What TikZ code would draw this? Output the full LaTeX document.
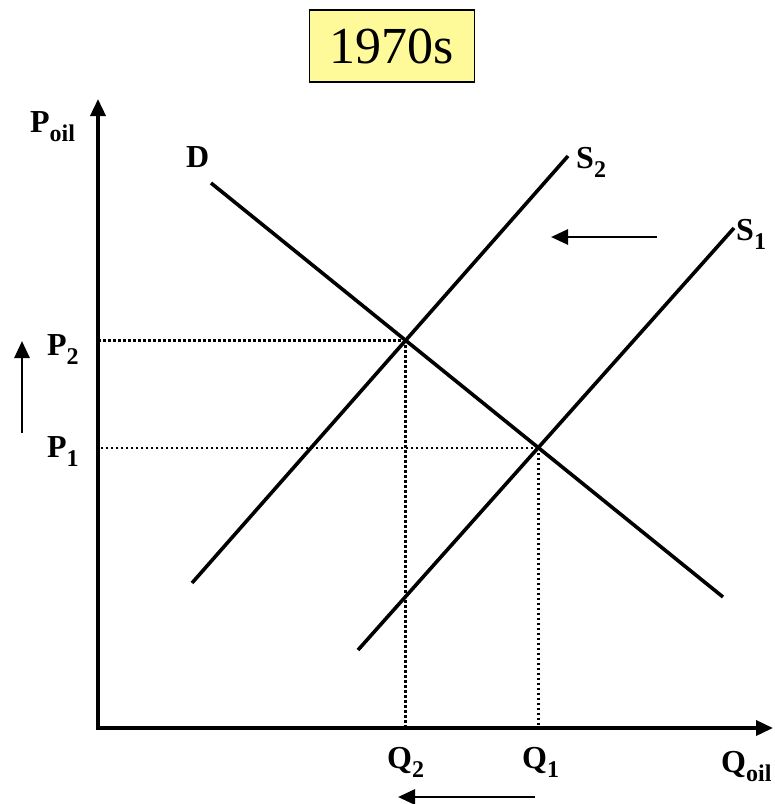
\documentclass[tikz,border=0pt]{standalone}
\usepackage{fontspec}
\setmainfont{Liberation Serif}
\usetikzlibrary{arrows.meta}
\newcommand{\mylab}[2]{#1\raisebox{-9pt}{\fontsize{24}{24}\selectfont #2}}
\begin{document}
\begin{tikzpicture}[x=1pt,y=-1pt,
  curve/.style={line width=3.6pt},
  axisline/.style={line width=3.6pt,-{Triangle[length=17pt,width=15pt]}},
  shiftarrow/.style={line width=2.8pt,-{Triangle[length=17pt,width=15pt]}},
  guide/.style={line width=2.4pt,dash pattern=on 2.4pt off 2.6pt},
  lab/.style={font=\bfseries\fontsize{32}{36}\selectfont,inner sep=0pt,anchor=base west},
  titlebox/.style={draw,line width=1.5pt,fill=yellow!40,minimum width=165pt,minimum height=72pt,inner sep=0pt,font=\fontsize{52}{56}\selectfont}]
\useasboundingbox (0,0) rectangle (775,804);
% title
\node[titlebox] (title) at (392,46) {1970s};
% axes
\coordinate (O) at (98,728);
\coordinate (ytop) at (98,99);
\coordinate (xend) at (773,728);
\draw[axisline] (O) -- (ytop);
\draw[axisline] ([xshift=-1.8pt]O) -- (xend);
% curves
\coordinate (d1) at (211,183);
\coordinate (d2) at (723,597);
\coordinate (s21) at (192,583);
\coordinate (s22) at (568,156);
\coordinate (s11) at (358,650);
\coordinate (s12) at (734,228);
\draw[curve] (d1) -- (d2);
\draw[curve] (s21) -- (s22);
\draw[curve] (s11) -- (s12);
\coordinate (E2) at (intersection of d1--d2 and s21--s22);
\coordinate (E1) at (intersection of d1--d2 and s11--s12);
% guides
\draw[guide] (E2) -- (E2 -| O);
\draw[guide] (E2) -- (E2 |- O);
\draw[guide] (E1) -- (E1 -| O);
\draw[guide] (E1) -- (E1 |- O);
% labels
\node[lab] (poil) at (30,132) {\mylab{P}{oil}};
\node[lab] (dlab) at (186,167) {D};
\node[lab] (s2lab) at (576,168) {\mylab{S}{2}};
\node[lab] (s1lab) at (736,240) {\mylab{S}{1}};
\node[lab] (p2lab) at (47,355) {\mylab{P}{2}};
\node[lab] (p1lab) at (47,457) {\mylab{P}{1}};
\node[lab] (q2lab) at (387,768) {\mylab{Q}{2}};
\node[lab] (q1lab) at (522,768) {\mylab{Q}{1}};
\node[lab] (qoil) at (721,772) {\mylab{Q}{oil}};
% shift arrows
\coordinate (a1s) at (657,237);
\coordinate (a1e) at (551,237);
\draw[shiftarrow] (a1s) -- (a1e);
\coordinate (a2s) at (22,433);
\coordinate (a2e) at (22,341);
\draw[shiftarrow] (a2s) -- (a2e);
\coordinate (a3s) at (535,797);
\coordinate (a3e) at (398,797);
\draw[shiftarrow] (a3s) -- (a3e);
\end{tikzpicture}
\end{document}
